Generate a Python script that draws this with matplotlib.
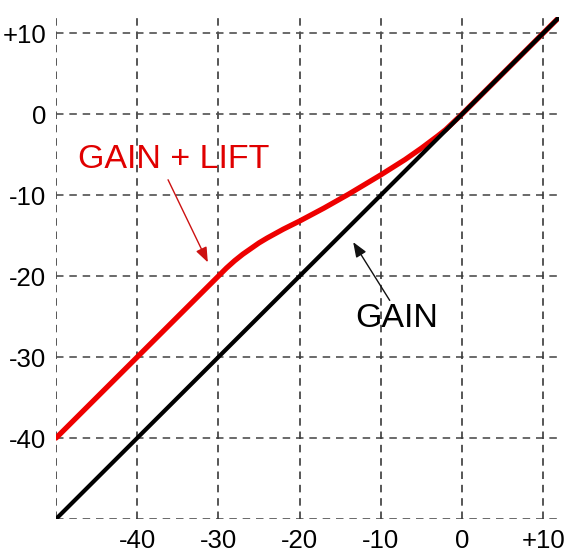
import matplotlib
matplotlib.use("Agg")
import matplotlib.pyplot as plt

# === DATA ===
gain_x = [-50, 12]
gain_y = [-50, 12]

lift_x = [-50, -30, -29.5, -29, -28, -27, -26, -25, -24, -22, -20, -17, -14, -10, -7, -5, -3, -2, 0, 12]
lift_y = [-40, -20, -19.5, -19.0, -18.1, -17.3, -16.6, -15.9, -15.3, -14.2, -13.2, -11.6, -9.9, -7.5, -5.6, -4.2, -2.7, -1.9, 0, 12]

grid_vals = [-50, -40, -30, -20, -10, 0, 10]
xtick_vals = [-40, -30, -20, -10, 0, 10]
xtick_labels = ["-40", "-30", "-20", "-10", "0", "+10"]
ytick_vals = [-40, -30, -20, -10, 0, 10]
ytick_labels = ["-40", "-30", "-20", "-10", "0", "+10"]

plt.rcParams["font.family"] = ["Liberation Sans", "DejaVu Sans"]

fig = plt.figure(figsize=(5.87, 5.6), dpi=100)
ax = fig.add_axes([0.0954, 0.0732, 0.8576, 0.8964])
ax.set_xlim(-50, 12)
ax.set_ylim(-50, 12)

# dashed grid, no frame
for v in grid_vals:
    ax.axvline(v, color="#3a3a3a", lw=1.2, ls=(0, (4.5, 3.5)), zorder=1)
    ax.axhline(v, color="#505050", lw=1.2, ls=(0, (4.5, 3.5)), zorder=1)
for s in ax.spines.values():
    s.set_visible(False)

ax.plot(lift_x, lift_y, color="#ee0000", lw=3.8, solid_capstyle="round",
        solid_joinstyle="round", zorder=3)
ax.plot(gain_x, gain_y, color="black", lw=3.0, solid_capstyle="round", zorder=4)

ax.set_xticks(xtick_vals)
ax.set_xticklabels(xtick_labels)
ax.set_yticks(ytick_vals)
ax.set_yticklabels(ytick_labels)
ax.tick_params(length=0, labelsize=18.5, pad=7)

# === ANNOTATIONS ===
ax.text(-35.5, -5.6, "GAIN + LIFT", color="#e00000", fontsize=24.5,
        ha="center", va="center")
ax.annotate("", xy=(-31.3, -18.3), xytext=(-36.2, -8.1),
            arrowprops=dict(arrowstyle="-|>,head_length=0.9,head_width=0.35",
                            color="#cc1111", lw=1.0, shrinkA=0, shrinkB=0))

ax.text(-8.1, -25.2, "GAIN", color="black", fontsize=24.5,
        ha="center", va="center")
ax.annotate("", xy=(-13.4, -15.8), xytext=(-8.9, -23.0),
            arrowprops=dict(arrowstyle="-|>,head_length=0.9,head_width=0.35",
                            color="#111111", lw=1.0, shrinkA=0, shrinkB=0))

plt.savefig("out.png", dpi=100)
